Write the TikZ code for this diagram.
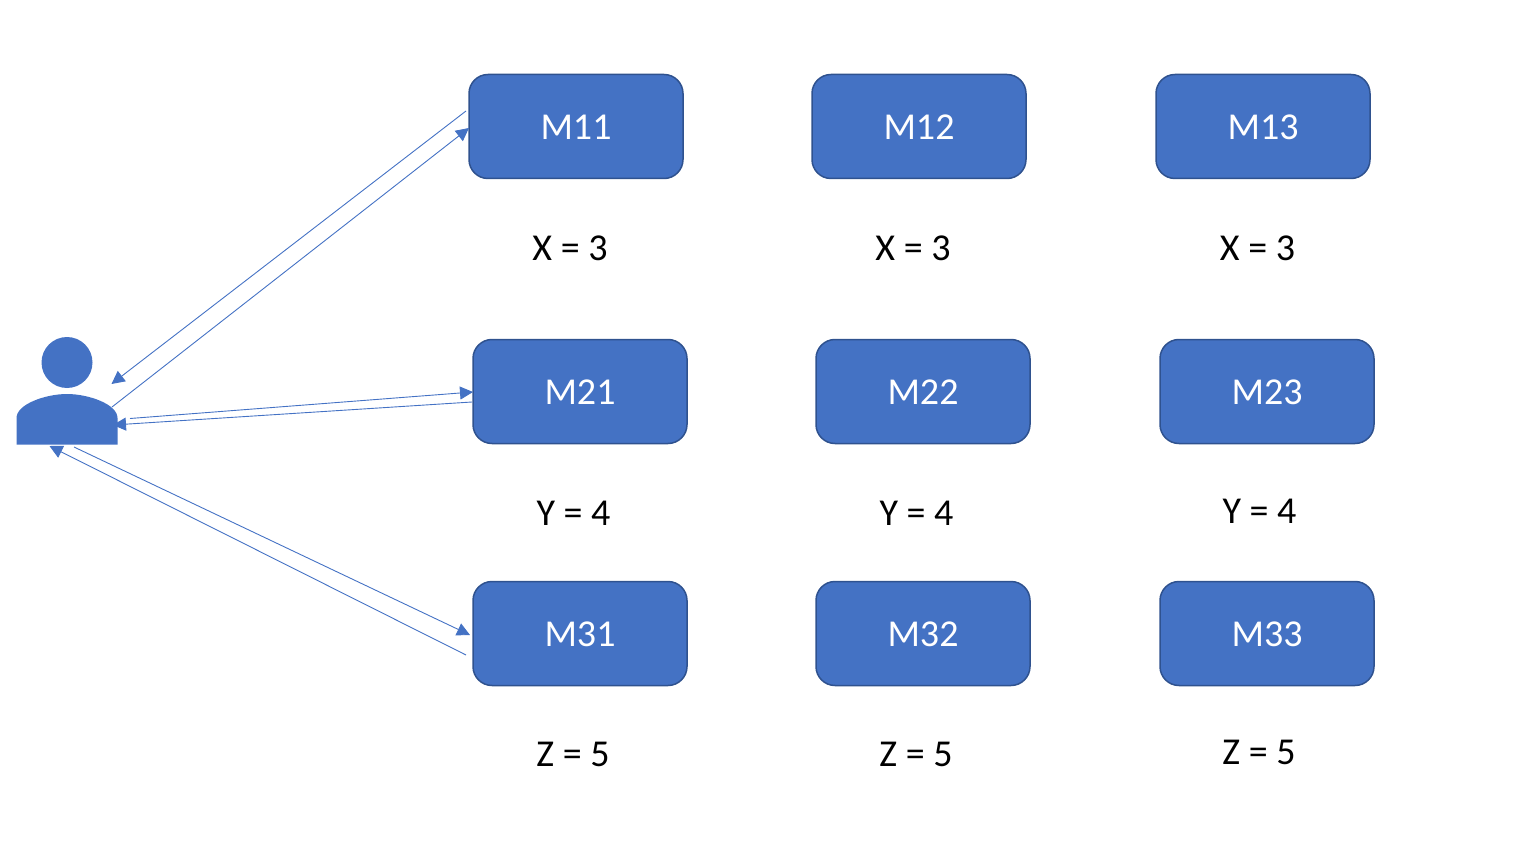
\documentclass[tikz,border=0pt]{standalone}
\usepackage{fontspec}
\setmainfont{Carlito}
\usetikzlibrary{arrows.meta}
\definecolor{boxfill}{HTML}{4472C4}
\definecolor{boxline}{HTML}{2F528F}
\tikzset{
  mbox/.style={draw=boxline,line width=1.5pt,fill=boxfill,rounded corners=19pt,minimum width=214pt,minimum height=104pt,inner sep=0pt,text=white,text height=26.4pt,text depth=0pt,font=\fontsize{38}{42}\selectfont},
  val/.style={text=black,inner sep=0pt,font=\fontsize{38}{42}\selectfont},
  link/.style={draw=boxfill,line width=0.9pt,-{Triangle[length=13pt,width=13pt]},shorten >=0pt},
}
\begin{document}
\begin{tikzpicture}[x=1pt,y=-1pt]
\useasboundingbox (0,0) rectangle (1526,842);
\node[mbox] (m11) at (576,126.5) {M11};
\node[mbox] (m12) at (919,126.5) {M12};
\node[mbox] (m13) at (1263,126.5) {M13};
\node[mbox] (m21) at (580,391.5) {M21};
\node[mbox] (m22) at (923,391.5) {M22};
\node[mbox] (m23) at (1267,391.5) {M23};
\node[mbox] (m31) at (580,633.5) {M31};
\node[mbox] (m32) at (923,633.5) {M32};
\node[mbox] (m33) at (1267,633.5) {M33};
\node[val] (x1) at (570,248.5) {X = 3};
\node[val] (x2) at (913,248.5) {X = 3};
\node[val] (x3) at (1257.5,248.5) {X = 3};
\node[val] (y1) at (573.5,513.5) {Y = 4};
\node[val] (y2) at (916.5,513.5) {Y = 4};
\node[val] (y3) at (1259.5,511.5) {Y = 4};
\node[val] (z1) at (573,754.5) {Z = 5};
\node[val] (z2) at (916,754.5) {Z = 5};
\node[val] (z3) at (1259,752.5) {Z = 5};
% person
\fill[boxfill] (67,362.5) circle (25.5);
\fill[boxfill] (16.5,444.5) -- (16.5,418) .. controls (16.5,404) and (46,394) .. (67,394) .. controls (88,394) and (117.5,404) .. (117.5,418) -- (117.5,444.5) -- cycle;
% connector ends
\coordinate (a1s) at (466,111);
\coordinate (a1e) at (111.5,384);
\coordinate (a2s) at (112,407);
\coordinate (a2e) at (469,128);
\coordinate (b1s) at (130,418.5);
\coordinate (b1e) at (473,392);
\coordinate (b2s) at (472,402);
\coordinate (b2e) at (113,425);
\coordinate (c1s) at (74,447);
\coordinate (c1e) at (470,635);
\coordinate (c2s) at (466,655);
\coordinate (c2e) at (49.5,446);
\draw[link] (a1s) -- (a1e);
\draw[link] (a2s) -- (a2e);
\draw[link] (b1s) -- (b1e);
\draw[link] (b2s) -- (b2e);
\draw[link] (c1s) -- (c1e);
\draw[link] (c2s) -- (c2e);
\end{tikzpicture}
\end{document}
